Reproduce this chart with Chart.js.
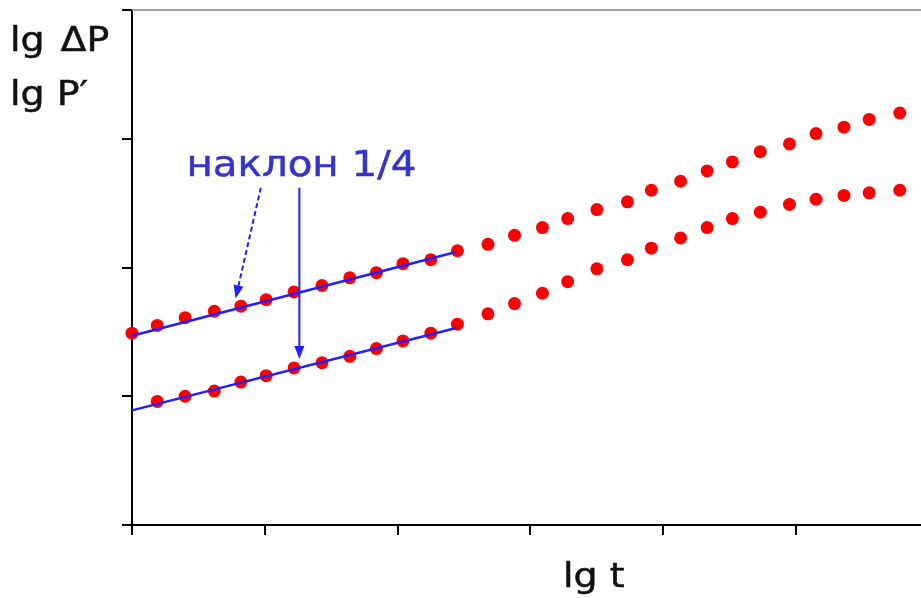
<!DOCTYPE html>
<html>
<head>
<meta charset="utf-8">
<script src="https://cdn.jsdelivr.net/npm/chart.js@4.4.1/dist/chart.umd.min.js"></script>
<style>
  html, body { margin: 0; padding: 0; background: #fff; }
</style>
</head>
<body>
<canvas id="chart" width="921" height="598"></canvas>
<script>
// lg t of the measured points (upper curve starts at t0, lower one a step later)
const lgT = [0.00, 0.19, 0.40, 0.62, 0.82, 1.01, 1.22, 1.43, 1.64, 1.84, 2.04, 2.25, 2.45,
  2.68, 2.88, 3.09, 3.28, 3.50, 3.73, 3.91, 4.13, 4.33, 4.52, 4.73, 4.95, 5.15, 5.36, 5.55, 5.78];
const lgTDer = lgT.slice(1);

// lg ΔP (upper curve)
const lgDeltaP = [1.49, 1.55, 1.61, 1.66, 1.70, 1.75, 1.81, 1.86, 1.92, 1.96, 2.03, 2.06, 2.13,
  2.18, 2.25, 2.31, 2.38, 2.45, 2.51, 2.60, 2.67, 2.75, 2.82, 2.90, 2.96, 3.04, 3.09, 3.15, 3.20];

// lg P' (lower curve)
const lgPDer = [0.96, 1.00, 1.04, 1.11, 1.16, 1.22, 1.26, 1.31, 1.37, 1.43, 1.49, 1.56,
  1.64, 1.72, 1.80, 1.89, 1.99, 2.06, 2.15, 2.23, 2.31, 2.38, 2.43, 2.49, 2.53, 2.56, 2.58, 2.60];

// straight lines with slope 1/4 fitted to the early part
const fitT = [0.00, 2.44];
const fitDeltaP = [1.47, 2.12];
const fitPDer = [0.89, 1.53];

// annotation arrows [t0, y0, t1, y1]
const arrowDashed = [0.97, 2.62, 0.78, 1.76];
const arrowSolid = [1.26, 2.62, 1.26, 1.29];

const toPoints = (xs, ys) => xs.map((v, i) => ({ x: v, y: ys[i] }));

function drawArrow(ctx, x, y, a, dashed) {
  const x0 = x.getPixelForValue(a[0]), y0 = y.getPixelForValue(a[1]);
  const x1 = x.getPixelForValue(a[2]), y1 = y.getPixelForValue(a[3]);
  const ang = Math.atan2(y1 - y0, x1 - x0);
  const len = 13, half = 5;
  const bx = x1 - len * Math.cos(ang), by = y1 - len * Math.sin(ang);
  ctx.save();
  ctx.strokeStyle = '#1f1fff';
  ctx.fillStyle = '#1f1fff';
  ctx.lineWidth = 2;
  if (dashed) ctx.setLineDash([5, 3]);
  ctx.beginPath();
  ctx.moveTo(x0, y0);
  ctx.lineTo(bx, by);
  ctx.stroke();
  ctx.setLineDash([]);
  ctx.beginPath();
  ctx.moveTo(x1, y1);
  ctx.lineTo(bx + half * Math.sin(ang), by - half * Math.cos(ang));
  ctx.lineTo(bx - half * Math.sin(ang), by + half * Math.cos(ang));
  ctx.closePath();
  ctx.fill();
  ctx.restore();
}

// the source text is Verdana-like and a bit wider/heavier than DejaVu
function stretchedText(ctx, text, px, py, size, sx, color) {
  ctx.save();
  ctx.font = size + 'px "DejaVu Sans", Verdana, sans-serif';
  ctx.fillStyle = color;
  ctx.strokeStyle = color;
  ctx.lineWidth = 0.5;
  ctx.textBaseline = 'alphabetic';
  ctx.translate(px, py);
  ctx.scale(sx, 1);
  ctx.fillText(text, 0, 0);
  ctx.strokeText(text, 0, 0);
  ctx.restore();
}

const overlay = {
  id: 'overlay',
  afterDatasetsDraw(chart) {
    const { ctx, chartArea, scales: { x, y } } = chart;

    // thin frame line along the top
    ctx.save();
    ctx.strokeStyle = '#a0a0a0';
    ctx.lineWidth = 2;
    ctx.beginPath();
    ctx.moveTo(chartArea.left, chartArea.top);
    ctx.lineTo(chart.width, chartArea.top);
    ctx.stroke();
    ctx.restore();

    drawArrow(ctx, x, y, arrowDashed, true);
    drawArrow(ctx, x, y, arrowSolid, false);

    stretchedText(ctx, 'наклон 1/4', x.getPixelForValue(0.41), y.getPixelForValue(2.71), 36, 1.12, '#3434cc');

    stretchedText(ctx, 'lg \u200AΔP', 10, 51, 33, 1.15, '#111');
    stretchedText(ctx, 'lg P\u2032', 10, 105, 33, 1.15, '#111');
    stretchedText(ctx, 'lg t', 563, 587, 33, 1.15, '#111');
  }
};

const axisGrid = {
  display: true,
  drawOnChartArea: false,
  drawTicks: true,
  tickLength: 10,
  color: '#000',
  lineWidth: 2
};

new Chart(document.getElementById('chart').getContext('2d'), {
  type: 'scatter',
  data: {
    datasets: [
      {
        data: toPoints(fitT, fitDeltaP),
        showLine: true,
        borderColor: '#1f1fff',
        borderWidth: 2.5,
        pointRadius: 0,
        order: 1
      },
      {
        data: toPoints(fitT, fitPDer),
        showLine: true,
        borderColor: '#1f1fff',
        borderWidth: 2.5,
        pointRadius: 0,
        order: 1
      },
      {
        data: toPoints(lgT, lgDeltaP),
        backgroundColor: '#ff0000',
        borderColor: '#ff0000',
        pointRadius: 6.5,
        borderWidth: 0,
        order: 2
      },
      {
        data: toPoints(lgTDer, lgPDer),
        backgroundColor: '#ff0000',
        borderColor: '#ff0000',
        pointRadius: 6.5,
        borderWidth: 0,
        order: 2
      }
    ]
  },
  options: {
    responsive: false,
    devicePixelRatio: 1,
    animation: false,
    clip: false,
    layout: { autoPadding: false, padding: { left: 122, top: 10, right: 0, bottom: 63 } },
    plugins: {
      legend: { display: false },
      tooltip: { enabled: false }
    },
    scales: {
      x: {
        type: 'linear',
        min: 0,
        max: 5.94,
        ticks: { display: false, stepSize: 1, includeBounds: false },
        grid: axisGrid,
        border: { display: true, color: '#000', width: 2 },
        afterFit: (s) => { s.height = 10; }
      },
      y: {
        type: 'linear',
        min: 0,
        max: 4,
        ticks: { display: false, stepSize: 1 },
        grid: axisGrid,
        border: { display: true, color: '#000', width: 2 },
        afterFit: (s) => { s.width = 10; }
      }
    }
  },
  plugins: [overlay]
});
</script>
</body>
</html>
